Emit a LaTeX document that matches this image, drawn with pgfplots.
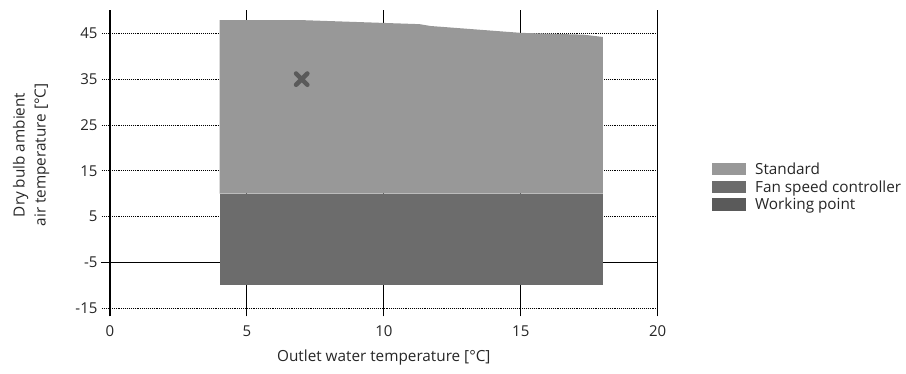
\documentclass[border=0pt]{standalone}
\usepackage{pgfplots}
\pgfplotsset{compat=1.18}
\usepackage{fontspec}
\setmainfont{Open Sans}
\definecolor{stdgray}{HTML}{989898}
\definecolor{fangray}{HTML}{6C6C6C}
\definecolor{wpgray}{HTML}{5A5A5A}
\definecolor{txt}{HTML}{262626}
\begin{document}
\begin{tikzpicture}
\useasboundingbox (0pt,0pt) rectangle (906pt,374pt);
\begin{axis}[
  at={(110pt,65.7pt)}, anchor=south west,
  scale only axis, width=547.7pt, height=297.9pt,
  xmin=0, xmax=20, ymin=-15, ymax=50,
  clip=false,
  xtick={0,5,10,15,20}, ytick={-15,-5,5,15,25,35,45},
  xtick pos=bottom, ytick pos=left,
  tick align=outside, major tick length=8pt,
  axis line style={draw=none},
  xmajorgrids, ymajorgrids,
  x grid style={black, line width=1.1pt, solid},
  y grid style={black, line width=0.9pt, densely dotted},
  xtick style={black, line width=1.1pt, solid},
  ytick style={black, line width=0.9pt, densely dotted},
  /pgf/number format/assume math mode=true,
  ticklabel style={font=\fontsize{15}{17}\selectfont, text=txt},
  xticklabel style={yshift=-6pt},
  yticklabel style={xshift=-1pt},
  xlabel={Outlet water temperature [°C]},
  ylabel={Dry bulb ambient\\air temperature [°C]},
  label style={font=\fontsize{15.3}{21}\selectfont, text=txt},
  xlabel style={at={(axis description cs:0.5,-0.165)}, anchor=center},
  ylabel style={at={(axis description cs:-0.144,0.515)}, anchor=center, align=center},
  legend style={at={(axis description cs:1.099,0.407)}, anchor=west, draw=none, fill=none,
    font=\fontsize{15.3}{17}\selectfont, text=txt, row sep=2.5pt, inner sep=0pt,
    nodes={inner sep=1pt}},
  legend cell align=left,
  legend image code/.code={\fill[#1] (0pt,-6pt) rectangle (34pt,6.5pt); \path (42pt,0pt);},
]
\addplot[black, line width=1.4pt, forget plot] coordinates {(-0.33,-5) (20,-5)};
\addplot[fill=stdgray, draw=none] coordinates {
  (4,10) (4,47.9) (6.9,47.9) (11.3,47.0) (11.7,46.6) (15.0,45.1) (17.3,44.7) (18,44.2) (18,10)
} -- cycle;
\addlegendentry{Standard}
\addplot[fill=fangray, draw=none] coordinates {
  (4,-10) (4,10) (18,10) (18,-10)
} -- cycle;
\addlegendentry{Fan speed controller}
\addplot[only marks, mark=x, mark size=8pt, wpgray, line width=4.5pt, line cap=round,
  mark options={solid}, forget plot] coordinates {(7,35)};
\addlegendimage{fill=wpgray, draw=none}
\addlegendentry{Working point}
\end{axis}
\end{tikzpicture}
\end{document}
